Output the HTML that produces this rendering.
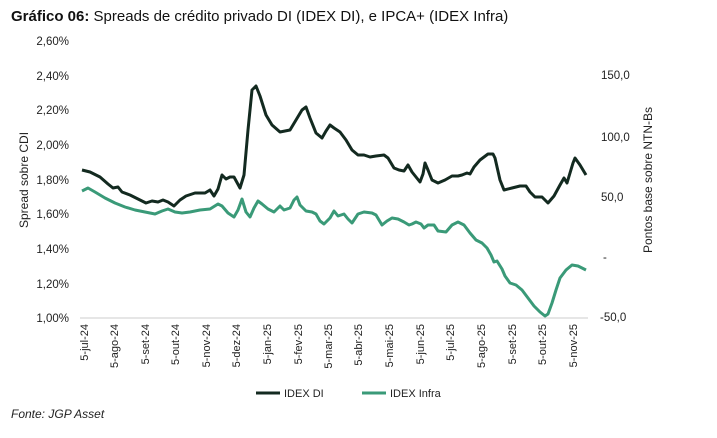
<!DOCTYPE html>
<html><head><meta charset="utf-8"><style>
body{margin:0;background:#fff;width:717px;height:433px;overflow:hidden}
svg{font-family:"Liberation Sans",sans-serif}
</style></head><body>
<svg width="717" height="433" viewBox="0 0 717 433">
<text x="11" y="21" font-size="15" fill="#111"><tspan font-weight="bold">Gráfico 06:</tspan> Spreads de crédito privado DI (IDEX DI), e IPCA+ (IDEX Infra)</text>
<g font-size="11.5" fill="#222" text-anchor="end">
<text x="69" y="45">2,60%</text><text x="69" y="80">2,40%</text><text x="69" y="114">2,20%</text>
<text x="69" y="149">2,00%</text><text x="69" y="184">1,80%</text><text x="69" y="218">1,60%</text>
<text x="69" y="253">1,40%</text><text x="69" y="288">1,20%</text><text x="69" y="322">1,00%</text>
</g>
<g font-size="11.5" fill="#222">
<text x="601" y="79">150,0</text><text x="601" y="141">100,0</text><text x="601" y="201">50,0</text>
<text x="603" y="261">-</text><text x="600" y="321">-50,0</text>
</g>
<text transform="translate(28,180) rotate(-90)" font-size="12" text-anchor="middle" fill="#222">Spread sobre CDI</text>
<text transform="translate(652,180) rotate(-90)" font-size="12" text-anchor="middle" fill="#222">Pontos base sobre NTN-Bs</text>
<line x1="80" y1="318" x2="588" y2="318" stroke="#ccc" stroke-width="1"/>
<g font-size="11" fill="#222" text-anchor="end">
<text transform="translate(88,324) rotate(-90)">5-jul-24</text>
<text transform="translate(118,324) rotate(-90)">5-ago-24</text>
<text transform="translate(149,324) rotate(-90)">5-set-24</text>
<text transform="translate(179,324) rotate(-90)">5-out-24</text>
<text transform="translate(210,324) rotate(-90)">5-nov-24</text>
<text transform="translate(240,324) rotate(-90)">5-dez-24</text>
<text transform="translate(271,324) rotate(-90)">5-jan-25</text>
<text transform="translate(302,324) rotate(-90)">5-fev-25</text>
<text transform="translate(332,324) rotate(-90)">5-mar-25</text>
<text transform="translate(362,324) rotate(-90)">5-abr-25</text>
<text transform="translate(393,324) rotate(-90)">5-mai-25</text>
<text transform="translate(424,324) rotate(-90)">5-jun-25</text>
<text transform="translate(454,324) rotate(-90)">5-jul-25</text>
<text transform="translate(485,324) rotate(-90)">5-ago-25</text>
<text transform="translate(516,324) rotate(-90)">5-set-25</text>
<text transform="translate(546,324) rotate(-90)">5-out-25</text>
<text transform="translate(577,324) rotate(-90)">5-nov-25</text>
</g>
<polyline fill="none" stroke="#3a9a78" stroke-width="3" stroke-linejoin="round" points="82,191 88,188 95,192 105,198 115,203 125,207 135,210 145,212 155,214 162,211 168,209 175,212 182,213 190,212 200,210 210,209 218,204 222,206 228,213 234,217 238,210 242,199 246,212 250,217 254,208 258,201 262,204 268,209 274,212 280,206 284,210 290,208 294,200 297,197 300,205 306,211 312,212 316,214 320,221 324,224 330,218 334,211 338,216 344,214 348,219 352,223 358,214 364,212 372,213 376,215 382,225 387,221 392,218 398,219 404,222 409,225 412,224 416,222 421,224 424,228 428,225 434,225 438,231 446,232 452,225 458,222 464,225 470,233 476,240 482,243 487,248 491,255 494,262 497,261 502,269 505,276 510,283 516,285 522,290 528,298 534,306 540,312 545,316 548,314 552,303 556,290 560,278 566,270 572,265 578,266 582,268 586,270"/>
<polyline fill="none" stroke="#132a20" stroke-width="3" stroke-linejoin="round" points="82,170 90,172 100,177 108,184 113,188 118,187 122,192 130,195 140,200 146,203 152,201 158,202 163,200 168,202 174,206 180,200 186,196 195,193 205,193 210,190 214,196 218,189 222,175 226,179 230,177 234,177 240,188 244,175 248,130 252,90 256,86 260,96 266,115 272,125 280,132 290,130 296,120 302,110 306,107 310,118 316,133 322,138 326,131 330,125 334,128 340,132 346,140 352,150 358,155 364,155 370,157 376,156 384,155 388,158 394,168 399,170 404,171 408,165 412,172 416,177 420,182 423,174 425,163 428,170 432,180 438,183 445,180 452,176 458,176 462,175 467,173 470,174 474,167 480,160 488,154 493,154 495,158 500,180 504,190 512,188 520,186 526,186 530,192 535,197 542,197 548,203 554,196 560,185 564,178 567,183 573,163 575,158 580,165 586,175"/>
<line x1="256" y1="393" x2="280" y2="393" stroke="#132a20" stroke-width="3"/>
<text x="284" y="397" font-size="11" fill="#222">IDEX DI</text>
<line x1="362" y1="393" x2="386" y2="393" stroke="#3a9a78" stroke-width="3"/>
<text x="390" y="397" font-size="11" fill="#222">IDEX Infra</text>
<text x="11" y="418" font-size="12" font-style="italic" fill="#222">Fonte: JGP Asset</text>
</svg>
</body></html>
